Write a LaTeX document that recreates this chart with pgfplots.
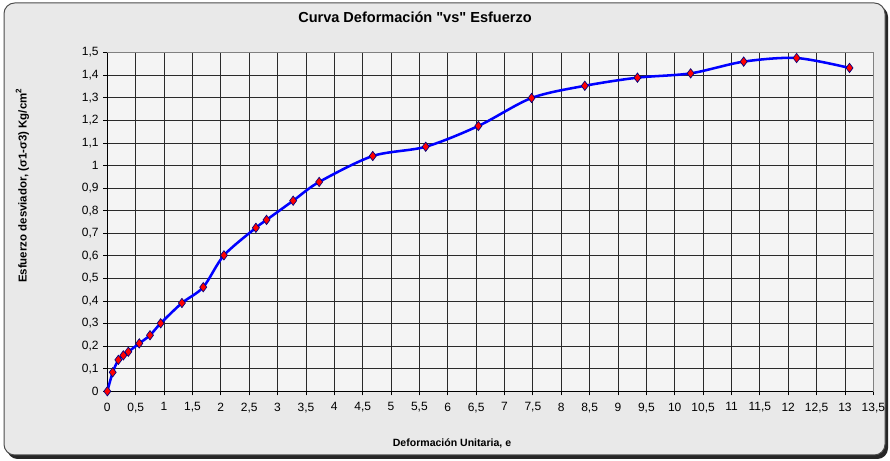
\documentclass[border=0pt]{standalone}
\usepackage{fontspec}
\setmainfont{Liberation Sans}
% plain family without TeX ligatures, so that " stays a straight quote
\newfontfamily\plainsans{Liberation Sans}
\usepackage{pgfplots}
\pgfplotsset{compat=1.18}

\definecolor{bgout}{HTML}{E9E9E9}
\definecolor{bgplot}{HTML}{F4F4F4}
\definecolor{gridc}{HTML}{2A2A2A}
\definecolor{edgec}{HTML}{000080}

\begin{document}
\begin{tikzpicture}
% chart area, 890 x 461 px at 0.75pt per px
\begin{scope}[x=0.75pt,y=0.75pt]
  \useasboundingbox (0,0) rectangle (890,461);
  \fill[black!85, rounded corners=8] (7,2) rectangle (888,455);
  \filldraw[fill=bgout, draw=black!70, line width=0.75pt, rounded corners=8] (4,6) rectangle (885,458);
\end{scope}

\begin{axis}[
    at={(80.5pt,52.3pt)}, anchor=south west,
    scale only axis,
    width=574.5pt, height=254pt,
    xmin=0, xmax=13.5, ymin=0, ymax=1.5,
    xtick={0,0.5,1,1.5,2,2.5,3,3.5,4,4.5,5,5.5,6,6.5,7,7.5,8,8.5,9,9.5,10,10.5,11,11.5,12,12.5,13,13.5},
    ytick={0,0.1,0.2,0.3,0.4,0.5,0.6,0.7,0.8,0.9,1,1.1,1.2,1.3,1.4,1.5},
    grid=major,
    major grid style={gridc, line width=0.6pt},
    axis line style={draw=gray, line width=0.75pt},
    tick style={black, line width=0.6pt},
    tick align=outside, major tick length=3pt,
    xtick pos=left, ytick pos=left,
    axis background/.style={fill=bgplot},
    ticklabel style={font=\fontsize{9}{10}\selectfont},
    xticklabel style={yshift=-2pt},
    /pgf/number format/use comma,
    /pgf/number format/assume math mode=true,
    clip=false,
  ]
  \draw[black, line width=0.75pt] (axis cs:0,1.5) -- (axis cs:0,0) -- (axis cs:13.5,0);

  \addplot[blue, line width=1.9pt, smooth, tension=0.5,
    mark=diamond*, mark size=3.5pt,
    mark options={solid, fill=red, draw=edgec, line width=0.5pt}]
  coordinates {
    (0,0)
    (0.095,0.084)
    (0.194,0.139)
    (0.282,0.159)
    (0.37,0.175)
    (0.563,0.212)
    (0.752,0.248)
    (0.94,0.301)
    (1.315,0.391)
    (1.69,0.461)
    (2.055,0.602)
    (2.618,0.724)
    (2.806,0.759)
    (3.275,0.844)
    (3.733,0.927)
    (4.678,1.042)
    (5.611,1.083)
    (6.539,1.175)
    (7.477,1.299)
    (8.415,1.353)
    (9.343,1.389)
    (10.28,1.408)
    (11.215,1.460)
    (12.148,1.476)
    (13.08,1.432)
  };
\end{axis}

\node[font=\plainsans\bfseries\fontsize{10.9}{12}\selectfont] at (311.25pt,333pt) {Curva Deformación "vs" Esfuerzo};
\node[font=\bfseries\fontsize{7.9}{9}\selectfont] at (339pt,13.5pt) {Deformación Unitaria, e};
\node[font=\bfseries\fontsize{8.6}{10}\selectfont, rotate=90] at (16.8pt,206.6pt) {Esfuerzo desviador, (σ1-σ3) Kg/cm\textsuperscript{2}};
\end{tikzpicture}
\end{document}
